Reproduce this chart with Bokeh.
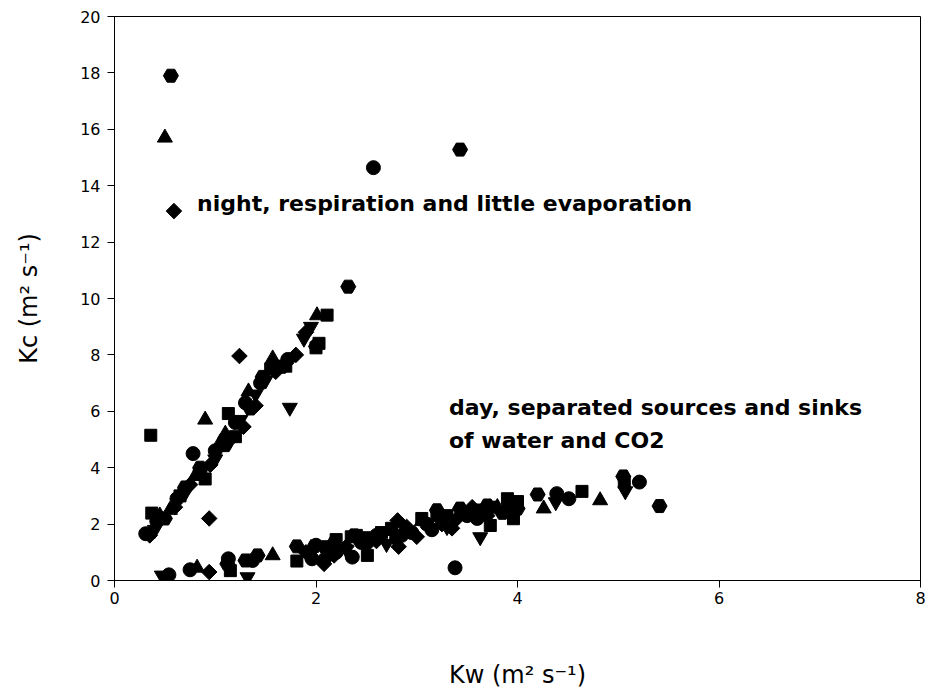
import math
from bokeh.plotting import figure
from bokeh.models import Range1d, Label, FixedTicker
from bokeh.embed import file_html
from bokeh.resources import INLINE

# Exchange coefficients for CO2 (Kc) against water vapour (Kw), six runs.
circle_kw = [0.31, 0.42, 0.62, 0.78, 0.85, 1.00, 1.20, 1.45, 1.72, 1.30, 2.57,
             0.54, 0.75, 1.13, 1.37, 1.96, 2.00, 2.36, 2.60, 2.95, 3.38, 3.10,
             3.50, 3.90, 4.39, 4.51, 5.21, 2.20, 2.80, 2.45, 2.85, 3.15, 3.60]
circle_kc = [1.66, 2.10, 2.90, 4.50, 3.90, 4.60, 5.60, 7.00, 7.84, 6.30, 14.64,
             0.20, 0.38, 0.77, 0.71, 0.77, 1.25, 0.83, 1.60, 1.70, 0.45, 2.00,
             2.30, 2.50, 3.08, 2.90, 3.49, 1.00, 1.50, 1.35, 1.60, 1.80, 2.20]

triangle_kw = [0.50, 0.90, 0.45, 0.55, 0.80, 1.05, 1.57, 1.33, 2.01, 1.10,
               0.82, 1.57, 2.15, 2.45, 2.75, 3.05, 3.45, 3.80, 4.26, 4.82, 1.95]
triangle_kc = [15.70, 5.70, 2.30, 2.50, 3.70, 4.90, 7.87, 6.70, 9.40, 5.20,
               0.45, 0.89, 1.30, 1.45, 1.75, 2.10, 2.40, 2.60, 2.55, 2.84, 1.15]

invtri_kw = [1.74, 1.88, 0.40, 0.70, 1.00, 1.25, 1.50, 1.95, 1.40,
             0.47, 1.32, 3.63, 2.70, 3.30, 4.38, 5.07, 2.85, 3.95, 2.30]
invtri_kc = [6.13, 8.58, 1.80, 3.10, 4.30, 5.70, 7.10, 9.00, 6.60,
             0.18, 0.12, 1.54, 1.30, 1.90, 2.78, 3.17, 1.60, 2.30, 1.10]

square_kw = [0.36, 0.37, 1.13, 2.11, 2.03, 0.65, 0.90, 1.55, 1.70, 1.20, 2.00,
             1.15, 1.81, 2.51, 3.73, 4.64, 5.06, 3.96, 3.90, 2.40, 2.20, 3.20,
             3.60, 4.00, 2.65, 3.05, 2.35, 2.75, 3.30, 3.50, 3.75]
square_kc = [5.15, 2.39, 5.92, 9.41, 8.41, 3.00, 3.60, 7.50, 7.60, 5.10, 8.25,
             0.35, 0.69, 0.89, 1.95, 3.16, 3.49, 2.19, 2.90, 1.60, 1.45, 2.30,
             2.50, 2.80, 1.70, 2.20, 1.55, 1.85, 2.30, 2.40, 2.60]

diamond_kw = [0.59, 0.94, 1.24, 1.28, 0.35, 0.60, 0.95, 1.15, 1.40, 1.60, 1.80,
              1.90, 0.75,
              0.94, 2.08, 2.18, 2.82, 2.30, 2.60, 2.90, 3.00, 3.25, 3.40, 3.70,
              1.90, 2.81, 3.55, 2.50, 3.35]
diamond_kc = [13.10, 2.20, 7.96, 5.45, 1.60, 2.60, 4.10, 5.00, 6.20, 7.40, 8.00,
              8.80, 3.40,
              0.30, 0.59, 0.89, 1.20, 1.20, 1.40, 1.90, 1.55, 2.00, 2.20, 2.30,
              1.00, 2.13, 2.60, 1.25, 1.85]

hex_kw = [0.56, 2.32, 2.00, 1.66, 1.47, 0.50, 0.70, 0.85, 1.10, 1.35, 3.43,
          1.12, 1.81, 1.30, 1.42, 2.09, 2.08, 4.20, 5.05, 5.41, 3.20, 3.43,
          3.70, 2.50, 2.90, 3.85, 4.00, 2.38]
hex_kc = [17.90, 10.42, 8.30, 7.58, 7.22, 2.20, 3.30, 4.00, 4.80, 6.10, 15.28,
          0.59, 1.21, 0.71, 0.89, 1.18, 0.71, 3.05, 3.69, 2.64, 2.49, 2.55,
          2.66, 1.50, 1.80, 2.40, 2.55, 1.60]

x_ticks = [0, 2, 4, 6, 8]
y_ticks = [0, 2, 4, 6, 8, 10, 12, 14, 16, 18, 20]

p = figure(width=930, height=691, output_backend="svg", toolbar_location=None,
           x_range=Range1d(0, 8), y_range=Range1d(0, 20),
           min_border_left=114, min_border_right=10,
           min_border_top=16, min_border_bottom=111)

p.background_fill_color = "white"
p.border_fill_color = "white"
p.outline_line_color = "black"
p.outline_line_width = 1
p.xgrid.visible = False
p.ygrid.visible = False

# (x, y, marker, size, angle); the diamond is a square turned by 45 degrees
series = [
    (circle_kw, circle_kc, "circle", 14, 0.0),
    (triangle_kw, triangle_kc, "triangle", 15, 0.0),
    (invtri_kw, invtri_kc, "inverted_triangle", 15, 0.0),
    (square_kw, square_kc, "square", 12, 0.0),
    (diamond_kw, diamond_kc, "square", 11, math.pi / 4),
    (hex_kw, hex_kc, "hex", 15, 0.0),
]
for xs, ys, marker, size, angle in series:
    p.scatter(xs, ys, marker=marker, size=size, angle=angle,
              fill_color="black", line_color="black")

for ax in (p.xaxis[0], p.yaxis[0]):
    ax.axis_line_color = "black"
    ax.major_tick_line_color = "black"
    ax.major_tick_in = 0
    ax.major_tick_out = 7
    ax.minor_tick_line_color = None
    ax.major_label_text_font = "DejaVu Sans"
    ax.major_label_text_font_size = "16px"
    ax.major_label_text_color = "black"
    ax.axis_label_text_font = "DejaVu Sans"
    ax.axis_label_text_font_size = "24px"
    ax.axis_label_text_font_style = "normal"
    ax.axis_label_text_color = "black"

p.xaxis.ticker = FixedTicker(ticks=x_ticks)
p.yaxis.ticker = FixedTicker(ticks=y_ticks)
p.xaxis.major_label_standoff = 4
p.yaxis.major_label_standoff = 7
p.xaxis.axis_label = "Kw (m² s⁻¹)"
p.yaxis.axis_label = "Kc (m² s⁻¹)"
p.xaxis.axis_label_standoff = 54
p.yaxis.axis_label_standoff = 34

note_style = dict(text_font="DejaVu Sans", text_font_style="bold",
                  text_font_size="22px", text_color="black",
                  text_baseline="alphabetic")
p.add_layout(Label(x=0.82, y=13.36, text="night, respiration and little evaporation",
                   **note_style))
p.add_layout(Label(x=3.32, y=6.12, text="day, separated sources and sinks",
                   **note_style))
p.add_layout(Label(x=3.32, y=4.96, text="of water and CO2", **note_style))

open("out.html", "w").write(file_html(p, INLINE))
